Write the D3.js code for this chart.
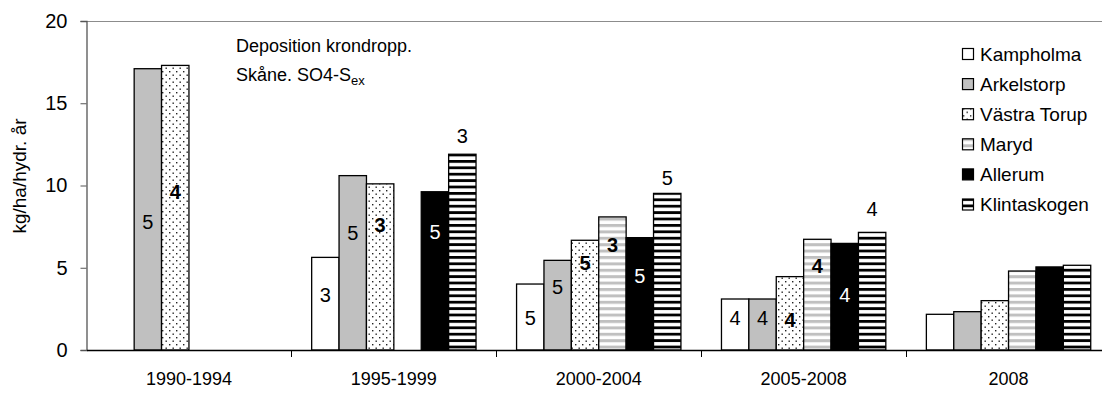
<!DOCTYPE html>
<html>
<head>
<meta charset="utf-8">
<script src="https://cdn.jsdelivr.net/npm/d3@7"></script>
<style>
  body { margin: 0; background: #fff; }
  svg { display: block; font-family: "Liberation Sans", Arial, sans-serif; }
</style>
</head>
<body>
<div class="chart"></div>
<script>
// categories and series
var groups = ["1990-1994", "1995-1999", "2000-2004", "2005-2008", "2008"];
var series = ["Kampholma", "Arkelstorp", "Västra Torup", "Maryd", "Allerum", "Klintaskogen"];

// values per series (kg/ha/hydr. år), null = no bar
var kampholma    = [null, 5.63, 4.01, 3.10, 2.17];
var arkelstorp   = [17.1, 10.6, 5.45, 3.10, 2.33];
var vastraTorup  = [17.3, 10.1, 6.67, 4.46, 3.00];
var maryd        = [null, null, 8.09, 6.73, 4.80];
var allerum      = [null, 9.62, 6.83, 6.48, 5.05];
var klintaskogen = [null, 11.9, 9.52, 7.15, 5.15];

var yTicks = [0, 5, 10, 15, 20];

// number labels on / above the bars
var labelGroup  = ["1990-1994", "1990-1994", "1995-1999", "1995-1999", "1995-1999", "1995-1999", "1995-1999",
                   "2000-2004", "2000-2004", "2000-2004", "2000-2004", "2000-2004", "2000-2004",
                   "2005-2008", "2005-2008", "2005-2008", "2005-2008", "2005-2008", "2005-2008"];
var labelSeries = ["Arkelstorp", "Västra Torup", "Kampholma", "Arkelstorp", "Västra Torup", "Allerum", "Klintaskogen",
                   "Kampholma", "Arkelstorp", "Västra Torup", "Maryd", "Allerum", "Klintaskogen",
                   "Kampholma", "Arkelstorp", "Västra Torup", "Maryd", "Allerum", "Klintaskogen"];
var labelText   = ["5", "4", "3", "5", "3", "5", "3",
                   "5", "5", "5", "3", "5", "5",
                   "4", "4", "4", "4", "4", "4"];
var labelAt     = [7.8, 9.62, 3.34, 7.13, 7.6, 7.17, 13.0,
                   1.95, 3.85, 5.29, 6.38, 4.52, 10.46,
                   1.95, 1.95, 1.82, 5.1, 3.34, 8.57];
var labelBold   = [false, true, false, false, true, false, false,
                   false, false, true, true, false, false,
                   false, false, true, true, false, false];

var values = [kampholma, arkelstorp, vastraTorup, maryd, allerum, klintaskogen];
var fills = ["#ffffff", "#c0c0c0", "url(#dots)", "url(#grayStripes)", "#000000", "url(#blackStripes)"];

var width = 1102, height = 394;
var margin = {top: 21, left: 86.5, bottom: 44};

var svg = d3.select(".chart")
  .append("svg")
    .attr("width", width)
    .attr("height", height);

// patterns
var defs = svg.append("defs");
var dots = defs.append("pattern")
    .attr("id", "dots")
    .attr("patternUnits", "userSpaceOnUse")
    .attr("width", 7).attr("height", 7);
dots.append("rect").attr("width", 7).attr("height", 7).attr("fill", "#fff");
dots.append("rect").attr("x", 1).attr("y", 1).attr("width", 1.4).attr("height", 1.4).attr("fill", "#222");
dots.append("rect").attr("x", 4.5).attr("y", 4.5).attr("width", 1.4).attr("height", 1.4).attr("fill", "#222");

var gs = defs.append("pattern")
    .attr("id", "grayStripes")
    .attr("patternUnits", "userSpaceOnUse")
    .attr("width", 8).attr("height", 6.4);
gs.append("rect").attr("width", 8).attr("height", 6.4).attr("fill", "#fff");
gs.append("rect").attr("width", 8).attr("height", 3).attr("fill", "#c0c0c0");

var bs = defs.append("pattern")
    .attr("id", "blackStripes")
    .attr("patternUnits", "userSpaceOnUse")
    .attr("width", 8).attr("height", 6.4);
bs.append("rect").attr("width", 8).attr("height", 6.4).attr("fill", "#fff");
bs.append("rect").attr("width", 8).attr("height", 2.8).attr("fill", "#000");

// scales
var x0 = d3.scaleBand()
    .domain(groups)
    .range([margin.left, 1111])
    .padding(0);

var x1 = d3.scaleBand()
    .domain(series)
    .range([0, x0.bandwidth()])
    .paddingInner(0)
    .paddingOuter(0.74);

var y = d3.scaleLinear()
    .domain([0, 20])
    .range([350, margin.top]);

// top border of plot area
svg.append("line")
    .attr("x1", margin.left).attr("x2", width)
    .attr("y1", y(20) + 0.5).attr("y2", y(20) + 0.5)
    .attr("stroke", "#8c8c8c")
    .attr("stroke-width", 1);

// bars
var bars = [];
series.forEach(function(s, i) {
  groups.forEach(function(g, j) {
    if (values[i][j] != null) bars.push({group: g, series: s, value: values[i][j], fill: fills[i]});
  });
});

svg.append("g")
  .selectAll("rect")
  .data(bars)
  .enter()
  .append("rect")
    .attr("x", function(d) { return x0(d.group) + x1(d.series); })
    .attr("y", function(d) { return y(d.value); })
    .attr("width", x1.bandwidth())
    .attr("height", function(d) { return y(0) - y(d.value); })
    .attr("fill", function(d) { return d.fill; })
    .attr("stroke", "#000")
    .attr("stroke-width", 1.3);

// axes
var yAxis = svg.append("g")
    .attr("transform", "translate(" + margin.left + ",0)")
    .call(d3.axisLeft(y).tickValues(yTicks).tickSize(6).tickPadding(13).tickFormat(d3.format("d")));
yAxis.select(".domain").attr("stroke", "#555").attr("stroke-width", 1.3);
yAxis.selectAll(".tick line").attr("stroke", "#555");
yAxis.selectAll("text")
    .attr("font-size", "20px")
    .attr("font-family", "Liberation Sans, Arial, sans-serif")
    .attr("fill", "#000");

var xAxis = svg.append("g")
    .attr("transform", "translate(0," + y(0) + ")")
    .call(d3.axisBottom(x0).tickSize(0).tickPadding(22));
xAxis.select(".domain").attr("stroke", "#000").attr("stroke-width", 1.3);
xAxis.selectAll("text")
    .attr("font-size", "18px")
    .attr("font-family", "Liberation Sans, Arial, sans-serif")
    .attr("fill", "#000");

// small separators between categories
svg.append("g")
  .selectAll("line")
  .data(groups.slice(1))
  .enter()
  .append("line")
    .attr("x1", function(d) { return Math.round(x0(d)) + 0.5; })
    .attr("x2", function(d) { return Math.round(x0(d)) + 0.5; })
    .attr("y1", y(0))
    .attr("y2", y(0) + 7)
    .attr("stroke", "#000");

// y label
svg.append("text")
    .attr("transform", "translate(26," + 176 + ") rotate(-90)")
    .attr("text-anchor", "middle")
    .attr("font-size", "19px")
    .text("kg/ha/hydr. år");

// bar labels
var labels = labelText.map(function(t, i) {
  return {group: labelGroup[i], series: labelSeries[i], text: t, at: labelAt[i], bold: labelBold[i]};
});

svg.append("g")
  .selectAll("text")
  .data(labels)
  .enter()
  .append("text")
    .attr("x", function(d) { return x0(d.group) + x1(d.series) + x1.bandwidth() / 2; })
    .attr("y", function(d) { return y(d.at); })
    .attr("dy", "0.36em")
    .attr("text-anchor", "middle")
    .attr("font-size", "20px")
    .attr("font-weight", function(d) { return d.bold ? "bold" : "normal"; })
    .attr("fill", function(d) { return d.series == "Allerum" ? "#fff" : "#000"; })
    .text(function(d) { return d.text; });

// title
var title = svg.append("g").attr("font-size", "18px");
title.append("text")
    .attr("x", 236).attr("y", 52)
    .text("Deposition krondropp.");
var t2 = title.append("text")
    .attr("x", 236).attr("y", 81);
t2.append("tspan").text("Skåne. SO4-S");
t2.append("tspan").attr("font-size", "13px").attr("dy", 4).text("ex");

// legend
var legend = svg.append("g")
  .selectAll("g")
  .data(series)
  .enter()
  .append("g")
    .attr("transform", function(d, i) { return "translate(962," + (54 + i * 30.1) + ")"; });

legend.append("rect")
    .attr("x", 0.5).attr("y", -5.5)
    .attr("width", 11).attr("height", 11)
    .attr("fill", function(d, i) { return fills[i]; })
    .attr("stroke", "#000")
    .attr("stroke-width", 1.2);

legend.append("text")
    .attr("x", 18)
    .attr("dy", "0.36em")
    .attr("font-size", "19px")
    .text(function(d) { return d; });
</script>
</body>
</html>
